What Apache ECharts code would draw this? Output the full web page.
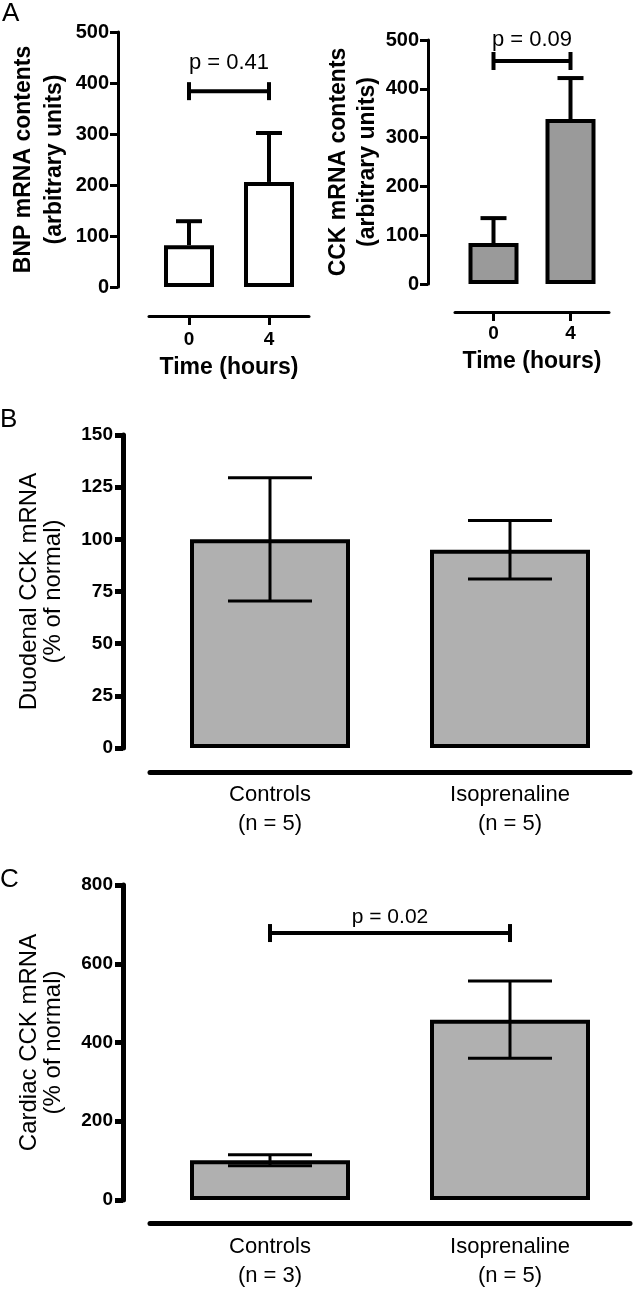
<!DOCTYPE html>
<html>
<head>
<meta charset="utf-8">
<script src="https://cdn.jsdelivr.net/npm/echarts@6/dist/echarts.min.js"></script>
<style>
html,body{margin:0;padding:0;background:#fff;}
#chart{width:633px;height:1290px;}
</style>
</head>
<body>
<div id="chart"></div>
<script>
// ---------------- DATA ----------------
// Panel A (left): BNP mRNA, time 0 vs 4 h
const timeCats = ['0', '4'];
const bnpMeans = [82, 206];
const bnpSem = [47, 96];
const bnpBracket = 384;
const bnpP = 'p = 0.41';
// Panel A (right): CCK mRNA, time 0 vs 4 h
const cckMeans = [84, 338];
const cckSem = [51, 84];
const cckBracket = 457;
const cckP = 'p = 0.09';
// Panel B: duodenal CCK mRNA
const groupCatsB = ['Controls\n(n = 5)', 'Isoprenaline\n(n = 5)'];
const duoMeans = [100, 95];
const duoSem = [29.5, 14];
// Panel C: cardiac CCK mRNA
const groupCatsC = ['Controls\n(n = 3)', 'Isoprenaline\n(n = 5)'];
const cardMeans = [101, 458];
const cardSem = [14, 98];
const cardBracket = 678;
const cardP = 'p = 0.02';
// Axis ranges / tick steps
const yA = {min: 0, max: 500, interval: 100};
const yB = {min: 0, max: 150, interval: 25};
const yC = {min: 0, max: 800, interval: 200};

// ---------------- HELPERS ----------------
const FONT = '"Liberation Sans", Arial, sans-serif';

function errData(means, sems, oneSided) {
  return means.map((m, i) => [i, oneSided ? m : m - sems[i], m + sems[i]]);
}

function errRender(capHalf, lw, oneSided) {
  return function (params, api) {
    const x = api.value(0), lo = api.value(1), hi = api.value(2);
    const pLo = api.coord([x, lo]);
    const pHi = api.coord([x, hi]);
    const st = {stroke: '#000', lineWidth: lw};
    const ch = [
      {type: 'line', shape: {x1: pLo[0], y1: pLo[1], x2: pHi[0], y2: pHi[1]}, style: st},
      {type: 'line', shape: {x1: pHi[0] - capHalf, y1: pHi[1], x2: pHi[0] + capHalf, y2: pHi[1]}, style: st}
    ];
    if (!oneSided) {
      ch.push({type: 'line', shape: {x1: pLo[0] - capHalf, y1: pLo[1], x2: pLo[0] + capHalf, y2: pLo[1]}, style: st});
    }
    return {type: 'group', children: ch};
  };
}

function bracketRender(label, fontSize, textGap) {
  return function (params, api) {
    const v = api.value(2);
    const p0 = api.coord([api.value(0), v]);
    const p1 = api.coord([api.value(1), v]);
    const st = {stroke: '#000', lineWidth: 4};
    return {
      type: 'group',
      children: [
        {type: 'line', shape: {x1: p0[0], y1: p0[1], x2: p1[0], y2: p1[1]}, style: st},
        {type: 'line', shape: {x1: p0[0], y1: p0[1] - 9, x2: p0[0], y2: p0[1] + 9}, style: st},
        {type: 'line', shape: {x1: p1[0], y1: p1[1] - 9, x2: p1[0], y2: p1[1] + 9}, style: st},
        {type: 'text', style: {text: label, x: (p0[0] + p1[0]) / 2, y: p0[1] - textGap,
          textAlign: 'center', textVerticalAlign: 'bottom', fill: '#000',
          font: 'normal ' + fontSize + 'px ' + FONT}}
      ]
    };
  };
}

function yAxisCfg(gi, rng, opts) {
  return {
    gridIndex: gi, type: 'value', min: rng.min, max: rng.max, interval: rng.interval,
    offset: opts.offset,
    name: opts.name, nameLocation: 'middle', nameRotate: 90, nameGap: opts.nameGap,
    nameTextStyle: {fontFamily: FONT, fontSize: opts.nameSize, fontWeight: opts.nameWeight,
      color: '#000', lineHeight: opts.nameLH},
    axisLine: {show: true, onZero: false, lineStyle: {color: '#000', width: opts.lw}},
    axisTick: {show: true, length: 8, lineStyle: {color: '#000', width: opts.lw}},
    axisLabel: {color: '#000', fontFamily: FONT, fontWeight: 'bold', fontSize: opts.labelSize, margin: opts.labelMargin},
    splitLine: {show: false}
  };
}

function xAxisCfg(gi, cats, opts) {
  return {
    gridIndex: gi, type: 'category', data: cats, offset: opts.offset,
    name: opts.name || '', nameLocation: 'middle', nameGap: opts.nameGap || 0,
    nameTextStyle: {fontFamily: FONT, fontSize: 23, fontWeight: 'bold', color: '#000'},
    axisLine: {show: true, onZero: false, lineStyle: {color: '#000', width: opts.lw}},
    axisTick: {show: opts.ticks, alignWithLabel: true, length: 9, lineStyle: {color: '#000', width: opts.lw}},
    axisLabel: {color: '#000', fontFamily: FONT, fontWeight: opts.labelWeight, fontSize: opts.labelSize,
      margin: opts.labelMargin, lineHeight: opts.labelLH, interval: 0},
    splitLine: {show: false}
  };
}

function barSeries(i, means, fill, bw, border) {
  return {
    type: 'bar', xAxisIndex: i, yAxisIndex: i, data: means, barWidth: bw,
    itemStyle: {color: fill, borderColor: '#000', borderWidth: border},
    silent: true, animation: false, z: 2
  };
}

const chart = echarts.init(document.getElementById('chart'), null, {renderer: 'canvas', width: 633, height: 1290});

const option = {
  backgroundColor: '#fff',
  animation: false,
  grid: [
    {left: 149, top: 32, width: 160, height: 255},
    {left: 455, top: 40, width: 154, height: 244},
    {left: 150, top: 435, width: 480, height: 313},
    {left: 150, top: 885, width: 480, height: 315}
  ],
  xAxis: [
    xAxisCfg(0, timeCats, {offset: 29, lw: 3, ticks: true, labelWeight: 'bold', labelSize: 19, labelMargin: 14, labelLH: 20, name: 'Time (hours)', nameGap: 40}),
    xAxisCfg(1, timeCats, {offset: 28, lw: 3, ticks: true, labelWeight: 'bold', labelSize: 19, labelMargin: 12, labelLH: 20, name: 'Time (hours)', nameGap: 38}),
    xAxisCfg(2, groupCatsB, {offset: 24, lw: 5, ticks: false, labelWeight: 'normal', labelSize: 22, labelMargin: 8, labelLH: 29}),
    xAxisCfg(3, groupCatsC, {offset: 23, lw: 5, ticks: false, labelWeight: 'normal', labelSize: 22, labelMargin: 9, labelLH: 29})
  ],
  yAxis: [
    yAxisCfg(0, yA, {offset: 31, lw: 3, name: 'BNP mRNA contents\n(arbitrary units)', nameGap: 48, nameSize: 23, nameWeight: 'bold', nameLH: 31, labelSize: 20, labelMargin: 9}),
    yAxisCfg(1, yA, {offset: 27, lw: 3, name: 'CCK mRNA contents\n(arbitrary units)', nameGap: 46, nameSize: 23, nameWeight: 'bold', nameLH: 29, labelSize: 20, labelMargin: 9}),
    yAxisCfg(2, yB, {offset: 27, lw: 5, name: 'Duodenal CCK mRNA\n(% of normal)', nameGap: 58, nameSize: 24, nameWeight: 'normal', nameLH: 24, labelSize: 19, labelMargin: 10}),
    yAxisCfg(3, yC, {offset: 27, lw: 5, name: 'Cardiac CCK mRNA\n(% of normal)', nameGap: 58, nameSize: 24, nameWeight: 'normal', nameLH: 24, labelSize: 19, labelMargin: 10})
  ],
  series: [
    barSeries(0, bnpMeans, '#ffffff', 50, 4),
    barSeries(1, cckMeans, '#9a9a9a', 50, 4),
    barSeries(2, duoMeans, '#b0b0b0', 160, 4),
    barSeries(3, cardMeans, '#b0b0b0', 160, 4),
    {type: 'custom', xAxisIndex: 0, yAxisIndex: 0, data: errData(bnpMeans, bnpSem, true), renderItem: errRender(13, 4, true), encode: {x: 0, y: [1, 2]}, z: 1, silent: true},
    {type: 'custom', xAxisIndex: 1, yAxisIndex: 1, data: errData(cckMeans, cckSem, true), renderItem: errRender(13, 4, true), encode: {x: 0, y: [1, 2]}, z: 1, silent: true},
    {type: 'custom', xAxisIndex: 2, yAxisIndex: 2, data: errData(duoMeans, duoSem, false), renderItem: errRender(42, 3, false), encode: {x: 0, y: [1, 2]}, z: 5, silent: true},
    {type: 'custom', xAxisIndex: 3, yAxisIndex: 3, data: errData(cardMeans, cardSem, false), renderItem: errRender(42, 3, false), encode: {x: 0, y: [1, 2]}, z: 5, silent: true},
    {type: 'custom', xAxisIndex: 0, yAxisIndex: 0, data: [[0, 1, bnpBracket]], renderItem: bracketRender(bnpP, 22, 17), encode: {x: [0, 1], y: 2}, z: 5, silent: true, clip: false},
    {type: 'custom', xAxisIndex: 1, yAxisIndex: 1, data: [[0, 1, cckBracket]], renderItem: bracketRender(cckP, 22, 10), encode: {x: [0, 1], y: 2}, z: 5, silent: true, clip: false},
    {type: 'custom', xAxisIndex: 3, yAxisIndex: 3, data: [[0, 1, cardBracket]], renderItem: bracketRender(cardP, 21, 5), encode: {x: [0, 1], y: 2}, z: 5, silent: true, clip: false}
  ],
  graphic: [
    {type: 'text', left: 2, top: 1, style: {text: 'A', font: 'normal 26px ' + FONT, fill: '#000'}},
    {type: 'text', left: 0, top: 407, style: {text: 'B', font: 'normal 26px ' + FONT, fill: '#000'}},
    {type: 'text', left: 0, top: 867, style: {text: 'C', font: 'normal 26px ' + FONT, fill: '#000'}}
  ]
};
chart.setOption(option);
</script>
</body>
</html>
